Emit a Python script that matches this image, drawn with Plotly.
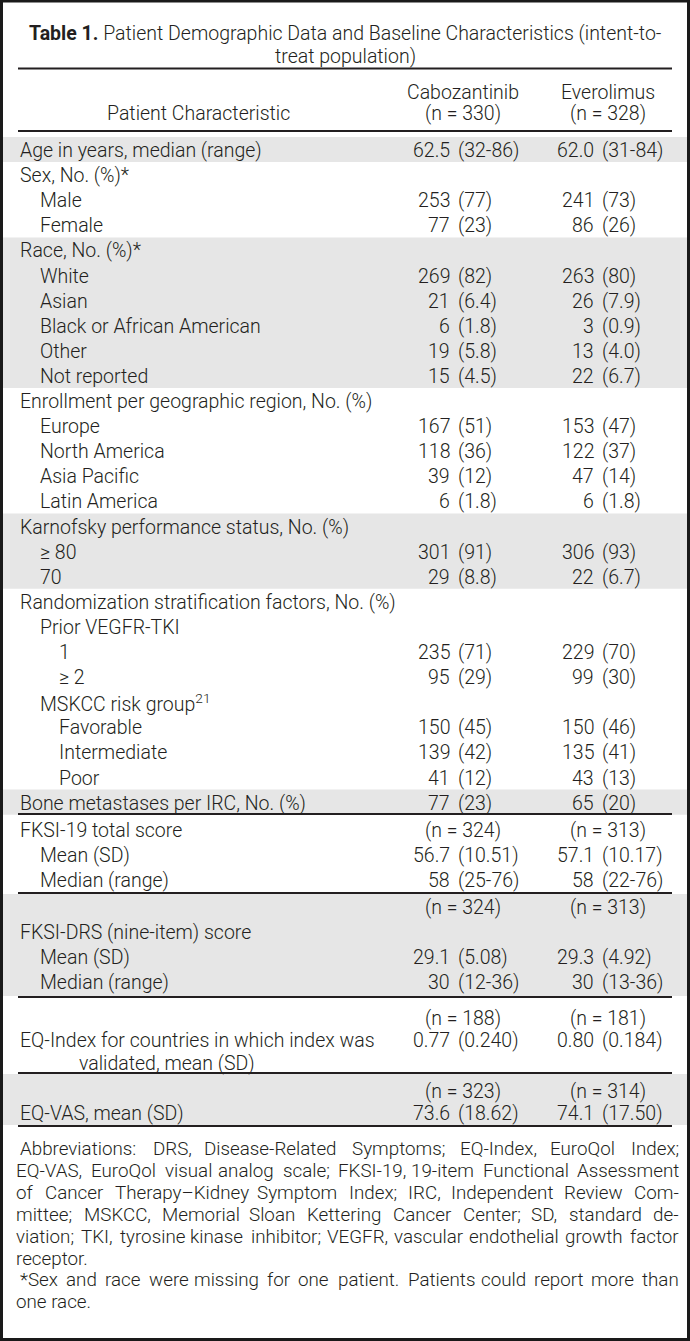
import plotly.graph_objects as go

W, H = 690, 1341

# ---------------- data ----------------
title_bold = "Table 1."
title_rest = " Patient Demographic Data and Baseline Characteristics (intent-to-"
title_line2 = "treat population)"

header_label = "Patient Characteristic"
arm_names = ["Cabozantinib", "Everolimus"]
arm_n = ["(n = 330)", "(n = 328)"]

main_labels = ["Age in years, median (range)", "Sex, No. (%)*", "Male", "Female",
               "Race, No. (%)*", "White", "Asian", "Black or African American", "Other", "Not reported",
               "Enrollment per geographic region, No. (%)", "Europe", "North America", "Asia Pacific",
               "Latin America", "Karnofsky performance status, No. (%)", "≥ 80", "70",
               "Randomization stratification factors, No. (%)", "Prior VEGFR-TKI", "1", "≥ 2",
               "MSKCC risk group<sup>21</sup>", "Favorable", "Intermediate", "Poor",
               "Bone metastases per IRC, No. (%)"]
main_levels = [0, 0, 1, 1, 0, 1, 1, 1, 1, 1, 0, 1, 1, 1, 1, 0, 1, 1, 0, 1, 2, 2, 1, 2, 2, 2, 0]
main_cabo = ["62.5 (32-86)", "", "253 (77)", "77 (23)", "", "269 (82)", "21 (6.4)", "6 (1.8)",
             "19 (5.8)", "15 (4.5)", "", "167 (51)", "118 (36)", "39 (12)", "6 (1.8)", "",
             "301 (91)", "29 (8.8)", "", "", "235 (71)", "95 (29)", "", "150 (45)", "139 (42)",
             "41 (12)", "77 (23)"]
main_evero = ["62.0 (31-84)", "", "241 (73)", "86 (26)", "", "263 (80)", "26 (7.9)", "3 (0.9)",
              "13 (4.0)", "22 (6.7)", "", "153 (47)", "122 (37)", "47 (14)", "6 (1.8)", "",
              "306 (93)", "22 (6.7)", "", "", "229 (70)", "99 (30)", "", "150 (46)", "135 (41)",
              "43 (13)", "65 (20)"]
main_group_sizes = [1, 3, 6, 5, 3, 8, 1]

fksi_labels = ["FKSI-19 total score", "Mean (SD)", "Median (range)"]
fksi_levels = [0, 1, 1]
fksi_cabo = ["(n = 324)", "56.7 (10.51)", "58 (25-76)"]
fksi_evero = ["(n = 313)", "57.1 (10.17)", "58 (22-76)"]

drs_labels = ["", "FKSI-DRS (nine-item) score", "Mean (SD)", "Median (range)"]
drs_levels = [0, 0, 1, 1]
drs_cabo = ["(n = 324)", "", "29.1 (5.08)", "30 (12-36)"]
drs_evero = ["(n = 313)", "", "29.3 (4.92)", "30 (13-36)"]

eqi_labels = ["", "EQ-Index for countries in which index was", "validated, mean (SD)"]
eqi_levels = [0, 0, 3]
eqi_cabo = ["(n = 188)", "0.77 (0.240)", ""]
eqi_evero = ["(n = 181)", "0.80 (0.184)", ""]

vas_labels = ["", "EQ-VAS, mean (SD)"]
vas_levels = [0, 0]
vas_cabo = ["(n = 323)", "73.6 (18.62)"]
vas_evero = ["(n = 314)", "74.1 (17.50)"]

footnote_lines = [
    "Abbreviations: DRS, Disease-Related Symptoms; EQ-Index, EuroQol Index;",
    "EQ-VAS, EuroQol visual analog scale; FKSI-19, 19-item Functional Assessment",
    "of Cancer Therapy–Kidney Symptom Index; IRC, Independent Review Com-",
    "mittee; MSKCC, Memorial Sloan Kettering Cancer Center; SD, standard de-",
    "viation; TKI, tyrosine kinase inhibitor; VEGFR, vascular endothelial growth factor",
    "receptor.",
    "*Sex and race were missing for one patient. Patients could report more than",
    "one race.",
]
footnote_justified = [True, True, True, True, True, False, True, False]
footnote_indent = [True, False, False, False, False, False, True, False]

# ---------------- style ----------------
FONT = "Roboto"
FS = 19.5
FS_FN = 18.8
TXT = "#231f20"
BAND = "#e6e6e6"
RULE = "#231f20"
X_LEFT = 18
INDENT = 19.5
RULE_X0, RULE_X1 = 18, 672
COL_CENTER = [463, 608]
PAREN_X = [456, 600]

# approximate advance widths (em) used only to space justified footnote words
_W = {' ': .248, '(': .342, ')': .348, '*': .431, ',': .196, '-': .276, '.': .263, ':': .242,
      ';': .211, '–': .60, 'A': .652, 'B': .622, 'C': .651, 'D': .656, 'E': .568, 'F': .553,
      'G': .681, 'H': .713, 'I': .272, 'J': .552, 'K': .627, 'L': .538, 'M': .873, 'N': .713,
      'O': .688, 'P': .631, 'Q': .688, 'R': .616, 'S': .593, 'T': .597, 'U': .649, 'V': .637,
      'W': .887, 'X': .627, 'Y': .601, 'Z': .599, 'a': .544, 'b': .561, 'c': .523, 'd': .564,
      'e': .530, 'f': .347, 'g': .561, 'h': .551, 'i': .243, 'j': .239, 'k': .507, 'l': .243,
      'm': .876, 'n': .552, 'o': .570, 'p': .561, 'q': .568, 'r': .338, 's': .516, 't': .327,
      'u': .551, 'v': .484, 'w': .751, 'x': .496, 'y': .473, 'z': .496}


def est_width(s, size):
    return sum(_W.get(ch, .561) for ch in s) * size * 0.98


fig = go.Figure()
annotations = []
shapes = []


def txt(x, y, s, anchor="left", size=FS, weight=300):
    annotations.append(dict(x=x, y=y, xref="x", yref="y", text=s, showarrow=False,
                            xanchor=anchor, yanchor="middle",
                            font=dict(family=FONT, size=size, color=TXT, weight=weight)))


def band(y0, y1):
    shapes.append(dict(type="rect", xref="x", yref="y", x0=3, x1=W - 3, y0=y0, y1=y1,
                       fillcolor=BAND, line=dict(width=0), layer="below"))


def rule(y):
    shapes.append(dict(type="line", xref="x", yref="y", x0=RULE_X0, x1=RULE_X1, y0=y, y1=y,
                       line=dict(color=RULE, width=2)))


def value(col, y, s):
    if not s:
        return
    if s.startswith("(n"):
        txt(COL_CENTER[col], y, s, "center")
        return
    num, par = s.split(" ", 1)
    txt(PAREN_X[col] - 4.5, y, num, "right")
    txt(PAREN_X[col], y, par, "left")


def rows(labels, levels, cabo, evero, y0, pitch):
    for i, (lab, lev, c, e) in enumerate(zip(labels, levels, cabo, evero)):
        y = y0 + i * pitch
        if lab:
            txt(X_LEFT + lev * INDENT, y, lab)
        value(0, y, c)
        value(1, y, e)


# title
txt(27, 33, "<b>" + title_bold + "</b>" + title_rest, "left")
txt(345, 56, title_line2, "center")
rule(68.5)

# header
for k in range(2):
    txt(COL_CENTER[k], 92, arm_names[k], "center")
    txt(COL_CENTER[k], 113, arm_n[k], "center")
txt(198, 113, header_label, "center")
rule(131)

# main body
MAIN_TOP, PITCH = 137, 25.1
start = 0
for gi, n in enumerate(main_group_sizes):
    if gi % 2 == 0:
        band(MAIN_TOP + start * PITCH, MAIN_TOP + (start + n) * PITCH)
    start += n
rows(main_labels, main_levels, main_cabo, main_evero, MAIN_TOP + PITCH / 2 + 1, PITCH)
rule(814)

# FKSI-19
rows(fksi_labels, fksi_levels, fksi_cabo, fksi_evero, 830, 25)
rule(893)
# FKSI-DRS
band(894, 996)
rows(drs_labels, drs_levels, drs_cabo, drs_evero, 907, 25)
rule(997)
# EQ-Index
rows(eqi_labels, eqi_levels, eqi_cabo, eqi_evero, 1018, 22.5)
rule(1073)
# EQ-VAS
band(1074, 1125)
rows(vas_labels, vas_levels, vas_cabo, vas_evero, 1091, 22.5)
rule(1126)

# footnotes: justified by spreading words in three groups
# (left group from the left edge, right group from the right edge, middle group centred)
FN_L, FN_R, FN_Y0, FN_P = 14, 681, 1149, 21.9
for i, (line, just, ind) in enumerate(zip(footnote_lines, footnote_justified, footnote_indent)):
    y = FN_Y0 + i * FN_P
    left = FN_L + (4 if ind else 0)
    if not just:
        txt(left, y, line, size=FS_FN)
        continue
    words = line.split(" ")
    widths = [est_width(w, FS_FN) for w in words]
    n = len(words)
    gap = (FN_R - left - sum(widths)) / (n - 1)
    starts = []
    x = left
    for wd in widths:
        starts.append(x)
        x += wd + gap
    a, b = n // 3, n - n // 3
    for k in range(n):
        if k < a:
            txt(starts[k], y, words[k], "left", size=FS_FN)
        elif k >= b:
            # right group: position from the right edge
            xr = FN_R - sum(widths[k + 1:]) - gap * (n - 1 - k)
            txt(xr, y, words[k], "right", size=FS_FN)
        else:
            txt(starts[k] + widths[k] / 2, y, words[k], "center", size=FS_FN)

# frame
shapes.append(dict(type="rect", xref="x", yref="y", x0=1.5, x1=W - 1.5, y0=1, y1=H - 1.5,
                   line=dict(color="#1a1a1a", width=3), fillcolor="rgba(0,0,0,0)"))

fig.update_layout(
    width=W, height=H, margin=dict(l=0, r=0, t=0, b=0),
    paper_bgcolor="white", plot_bgcolor="white",
    xaxis=dict(range=[0, W], visible=False, fixedrange=True),
    yaxis=dict(range=[H, 0], visible=False, fixedrange=True),
    annotations=annotations, shapes=shapes, showlegend=False,
)
fig.write_html("out.html", config={"displayModeBar": False},
               post_script="document.body.style.margin='0';document.body.style.overflow='hidden';")
